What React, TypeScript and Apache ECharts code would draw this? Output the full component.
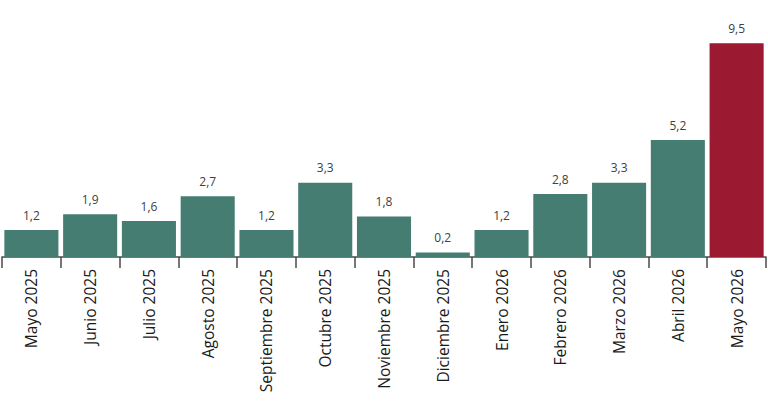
import React, { useEffect, useRef } from "react";
import * as echarts from "echarts";

const categories = [
  "Mayo 2025",
  "Junio 2025",
  "Julio 2025",
  "Agosto 2025",
  "Septiembre 2025",
  "Octubre 2025",
  "Noviembre 2025",
  "Diciembre 2025",
  "Enero 2026",
  "Febrero 2026",
  "Marzo 2026",
  "Abril 2026",
  "Mayo 2026",
];
const values = [1.2, 1.9, 1.6, 2.7, 1.2, 3.3, 1.8, 0.2, 1.2, 2.8, 3.3, 5.2, 9.5];
const highlightIndex = 12;

const TEAL = "#467d73";
const RED = "#9b1a31";

export default function App() {
  const ref = useRef<HTMLDivElement>(null);
  useEffect(() => {
    if (!ref.current) return;
    const chart = echarts.init(ref.current, null, { renderer: "svg" });
    chart.setOption({
      animation: false,
      backgroundColor: "#ffffff",
      grid: { left: 2, right: 2, top: 32, bottom: 148, containLabel: false },
      xAxis: {
        type: "category",
        data: categories,
        axisLine: { show: true, lineStyle: { color: "#4a4a4a", width: 1.5 } },
        axisTick: { show: true, length: 11, lineStyle: { color: "#4a4a4a", width: 1.5 } },
        axisLabel: {
          rotate: 90,
          margin: 12,
          interval: 0,
          color: "#1a1a1a",
          fontSize: 15.5,
          fontFamily: "Open Sans",
        },
      },
      yAxis: {
        type: "value",
        min: 0,
        max: 10,
        show: false,
        splitLine: { show: false },
      },
      series: [
        {
          type: "bar",
          data: values.map((v, i) => ({
            value: v,
            itemStyle: { color: i === highlightIndex ? RED : TEAL },
          })),
          barCategoryGap: "8%",
          label: {
            show: true,
            position: "top",
            distance: 9,
            color: "#404040",
            fontSize: 12,
            fontFamily: "Open Sans",
            formatter: (p: any) => String(p.value).replace(".", ","),
          },
        },
      ],
    });
    return () => chart.dispose();
  }, []);
  return (
    <div
      ref={ref}
      style={{ position: "fixed", left: 0, top: 0, width: 768, height: 405 }}
    />
  );
}
